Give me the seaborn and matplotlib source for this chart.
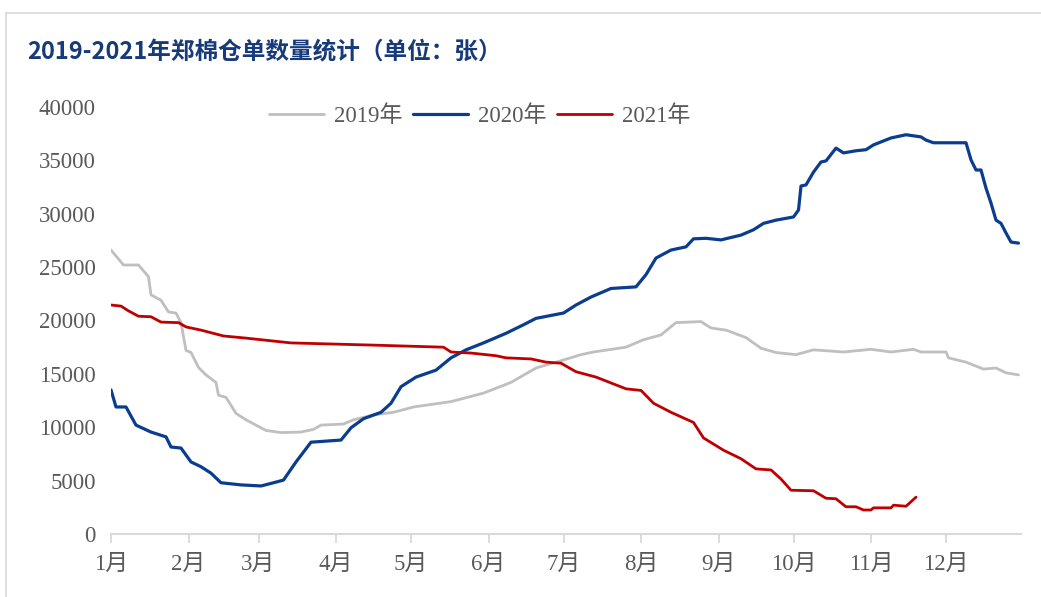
import numpy as np
import pandas as pd
import matplotlib.pyplot as plt
from matplotlib.lines import Line2D
import seaborn as sns

# day of year (0 = Jan 1) and number of warehouse receipts
days_2019 = [0, 5, 11, 15, 16, 20, 23, 26, 28, 30, 32, 35, 38, 42, 43, 46, 50, 54, 62, 68,
             76, 81, 84, 93, 97, 105, 113, 121, 136, 149, 160, 170, 181, 188, 193, 206, 213,
             220, 226, 236, 240, 246, 254, 260, 266, 274, 281, 293, 304, 312, 321, 324, 334,
             335, 342, 349, 354, 358, 363]
vals_2019 = [26600, 25200, 25200, 24100, 22400, 21900, 20800, 20700, 19800, 17200, 17000,
             15600, 14900, 14200, 13000, 12800, 11300, 10700, 9700, 9500, 9550, 9800, 10200,
             10300, 10700, 11150, 11400, 11900, 12400, 13200, 14200, 15550, 16300, 16800,
             17050, 17500, 18200, 18650, 19800, 19900, 19300, 19100, 18400, 17400, 17000,
             16800, 17250, 17050, 17300, 17050, 17300, 17050, 17050, 16500, 16100, 15450,
             15550, 15100, 14900]

days_2020 = [0, 2, 6, 10, 16, 22, 24, 28, 32, 36, 40, 44, 52, 60, 65, 69, 74, 80, 92, 96,
             101, 108, 112, 116, 120, 122, 130, 136, 142, 149, 158, 165, 170, 181, 186, 192,
             200, 210, 214, 218, 224, 230, 233, 238, 244, 252, 257, 261, 266, 273, 275, 276,
             278, 281, 284, 286, 290, 293, 298, 302, 305, 312, 318, 324, 326, 329, 342, 344,
             346, 348, 350, 352, 354, 356, 358, 360, 363]
vals_2020 = [13500, 11900, 11900, 10200, 9550, 9100, 8150, 8050, 6750, 6300, 5700, 4800,
             4600, 4500, 4800, 5050, 6750, 8600, 8800, 9950, 10800, 11400, 12250, 13800, 14400,
             14700, 15350, 16500, 17250, 17900, 18800, 19600, 20200, 20700, 21450, 22200,
             23000, 23150, 24300, 25850, 26600, 26900, 27650, 27700, 27550, 28000, 28500,
             29100, 29400, 29700, 30350, 32600, 32700, 33900, 34850, 34950, 36150, 35700,
             35900, 36000, 36450, 37100, 37400, 37200, 36900, 36650, 36650, 35050, 34100,
             34100, 32400, 31000, 29400, 29100, 28200, 27350, 27250]

days_2021 = [0, 4, 7, 11, 16, 20, 27, 30, 36, 45, 54, 62, 72, 88, 104, 133, 136, 144, 154,
             158, 168, 174, 180, 186, 194, 206, 212, 217, 224, 233, 237, 245, 252, 258, 264,
             268, 272, 281, 286, 290, 294, 298, 301, 304, 305, 312, 313, 318, 322]
vals_2021 = [21450, 21350, 20900, 20400, 20350, 19850, 19800, 19400, 19100, 18550, 18350,
             18150, 17900, 17800, 17700, 17500, 17050, 16950, 16700, 16500, 16400, 16100,
             16000, 15200, 14700, 13600, 13450, 12250, 11400, 10450, 9000, 7850, 7050, 6100,
             6000, 5150, 4100, 4050, 3350, 3300, 2550, 2550, 2250, 2250, 2450, 2450, 2700,
             2600, 3450]

month_starts = [0, 31, 59, 90, 120, 151, 181, 212, 243, 273, 304, 334]
month_labels = [f"{m}月" for m in range(1, 13)]
y_ticks = list(range(0, 40001, 5000))

GRAY = "#BFBFBF"
BLUE = "#0A3D8F"
RED = "#C00000"
TEXT = "#595959"
TITLE = "#173A7A"

sns.set_theme(style="white")
plt.rcParams["font.family"] = ["Liberation Serif", "Noto Sans CJK SC", "DejaVu Sans"]

fig = plt.figure(figsize=(10.41, 5.97), dpi=100)
ax = fig.add_axes([111 / 1041, 1 - 534 / 597, 910 / 1041, 427 / 597])

series = [
    ("2019年", days_2019, vals_2019, GRAY, 2.0),
    ("2020年", days_2020, vals_2020, BLUE, 2.3),
    ("2021年", days_2021, vals_2021, RED, 2.0),
]
for name, d, v, color, lw in series:
    df = pd.DataFrame({"day": d, "value": v})
    sns.lineplot(data=df, x="day", y="value", ax=ax, color=color, linewidth=lw,
                 label=name, estimator=None, sort=False)

ax.set_xlim(0, 364)
ax.set_ylim(0, 40000)
ax.set_xticks(month_starts)
ax.set_xticklabels(month_labels)
ax.set_yticks(y_ticks)
ax.set_yticklabels([str(t) for t in y_ticks])
ax.set_xlabel("")
ax.set_ylabel("")

for side in ["top", "right", "left"]:
    ax.spines[side].set_visible(False)
ax.spines["bottom"].set_color("#D9D9D9")
ax.spines["bottom"].set_linewidth(1.5)

ax.tick_params(axis="x", which="major", bottom=True, length=6.5, width=1.3,
               color="#D9D9D9", labelsize=16.5, labelcolor=TEXT, pad=8)
ax.tick_params(axis="y", left=False, length=0, labelsize=16.5, labelcolor=TEXT, pad=11)

leg = ax.legend(loc="center", bbox_to_anchor=(0.405, 0.979), ncol=3, frameon=False,
                fontsize=16.5, handlelength=2.4, handletextpad=0.45, columnspacing=0.45,
                labelcolor=TEXT)

fig.text(27 / 1041, 1 - 52 / 597, "2019-2021年郑棉仓单数量统计（单位：张）",
         fontsize=17, color=TITLE, fontweight="bold", va="center", ha="left",
         family=["Noto Sans CJK SC", "DejaVu Sans"])

# frame lines along the top and left of the picture
fig.add_artist(Line2D([6 / 1041, 1], [1 - 13 / 597, 1 - 13 / 597],
                      transform=fig.transFigure, color="#D9D9D9", linewidth=1.2))
fig.add_artist(Line2D([6 / 1041, 6 / 1041], [0, 1 - 13 / 597],
                      transform=fig.transFigure, color="#D9D9D9", linewidth=1.2))

fig.savefig("out.png", dpi=100, facecolor="white")
